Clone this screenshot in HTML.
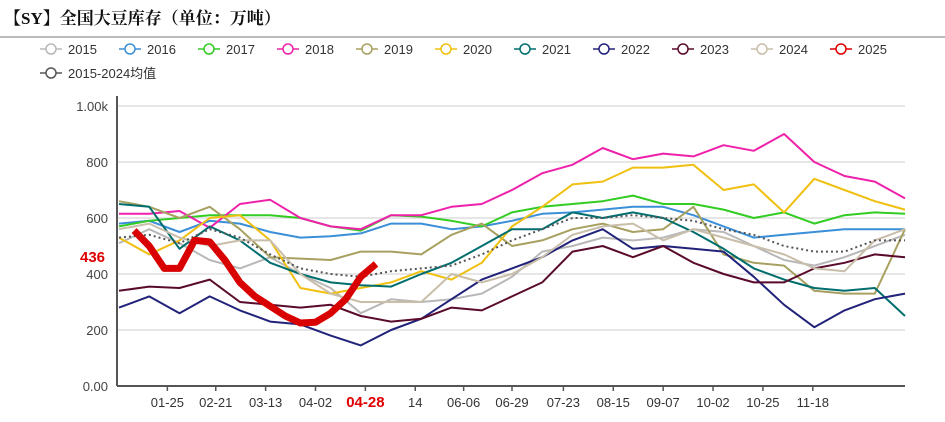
<!DOCTYPE html>
<html><head><meta charset="utf-8"><style>
body{margin:0;background:#fff;width:945px;height:417px;overflow:hidden;font-family:"Liberation Sans","Noto Sans CJK SC",sans-serif}
</style></head><body>
<svg id="c" width="945" height="417" xmlns="http://www.w3.org/2000/svg">
<text x="4" y="24" font-size="17" font-weight="bold" fill="#111" font-family="'Liberation Serif','Noto Serif CJK SC',serif">【SY】全国大豆库存（单位：万吨）</text>
<line x1="0" y1="37" x2="945" y2="37" stroke="#bbb" stroke-width="2"/>
<g id="legend"></g>
<g id="grid"></g>
<g id="series"></g>
<g id="axes"></g>
</svg>
<script>
const names=["2015","2016","2017","2018","2019","2020","2021","2022","2023","2024","2025","2015-2024均值"];
const colors=["#b8b8b8","#3a8fd8","#33cc22","#ee22aa","#a8a060","#f0c010","#006e6e","#22227a","#5a0a2a","#c8beaa","#e00000","#555"];
const s2015=[510,560,510,450,420,460,400,350,260,310,300,310,330,390,480,500,530,520,530,560,550,500,450,430,460,500,540];
const s2016=[580,590,550,590,580,550,530,535,545,580,580,560,570,590,615,620,630,640,640,610,570,530,540,550,560,560,560];
const s2017=[570,590,600,610,610,610,600,570,555,610,605,590,570,620,640,650,660,680,650,650,630,600,620,580,610,620,615];
const s2018=[615,615,625,565,650,665,600,570,560,610,610,640,650,700,760,790,850,810,830,820,860,840,900,800,750,730,670];
const s2019=[660,640,600,640,560,460,455,450,480,480,470,540,580,500,520,560,580,550,560,640,470,440,430,340,330,330,560];
const s2020=[530,470,520,600,610,520,350,330,350,370,410,380,440,570,640,720,730,780,780,790,700,720,620,740,700,660,630];
const s2021=[650,640,490,570,520,440,400,370,360,355,400,440,500,560,560,620,600,620,600,550,490,420,380,350,340,350,250];
const s2022=[280,320,260,320,270,230,220,180,145,200,240,310,380,420,460,520,560,490,500,490,480,390,290,210,270,310,330];
const s2023=[340,355,350,380,300,290,280,290,250,230,240,280,270,320,370,480,500,460,500,440,400,370,370,420,440,470,460];
const s2024=[560,580,530,500,520,520,400,330,300,300,300,400,370,400,460,540,570,580,520,560,530,500,470,420,410,520,560];
const s2025=[null,555,500,420,420,520,515,450,370,320,285,250,225,228,260,310,390,436];
const sAvg=[530,540,510,560,530,470,420,400,390,410,420,430,470,520,560,600,600,610,600,590,560,540,500,480,480,520,520];
const tickLabels=["01-25","02-21","03-13","04-02","04-28","14","06-06","06-29","07-23","08-15","09-07","10-02","10-25","11-18"];
const tickWeeks=[3.2,6.4,9.7,13,16.3,19.6,22.8,26,29.4,32.7,36,39.3,42.6,45.9];
const yTicks=[0,200,400,600,800,1000];
const yTickLabels=["0.00","200","400","600","800","1.00k"];
const NS="http://www.w3.org/2000/svg";
const x0=119,x1=905,nW=52,yB=386,yT=106;
const xS=w=>x0+(x1-x0)*w/nW;
const yS=v=>yB-(yB-yT)*v/1000;
function mk(t,a,p){const e=document.createElementNS(NS,t);for(const k in a)e.setAttribute(k,a[k]);p.appendChild(e);return e;}
const grid=document.getElementById('grid'),axes=document.getElementById('axes'),ser=document.getElementById('series'),leg=document.getElementById('legend');
yTicks.forEach((v,i)=>{
  if(v>0){const g=mk('line',{x1:x0-2,x2:x1,y1:yS(v),y2:yS(v),stroke:'#ddd','stroke-width':1.5},grid);
  
  }
  const t=mk('text',{x:108,y:yS(v)+5,'font-size':13,fill:'#444','text-anchor':'end'},axes);t.textContent=yTickLabels[i];
  
  
});
const ax=mk('line',{x1:x0-2,x2:x0-2,y1:yT-10,y2:yB,stroke:'#555','stroke-width':2},axes);


const bx=mk('line',{x1:x0-2,x2:x1,y1:yB,y2:yB,stroke:'#555','stroke-width':2},axes);


tickLabels.forEach((l,i)=>{
  const x=xS(tickWeeks[i]);
  mk('line',{x1:x,x2:x,y1:yB,y2:yB+5,stroke:'#555','stroke-width':1.5},axes);
  const red=l==="04-28";
  const t=mk('text',{x:x,y:407,'font-size':red?15:13,'font-weight':red?'bold':'normal',fill:red?'#e00000':'#333','text-anchor':'middle'},axes);t.textContent=l;
  
  
});
const all=[s2015,s2016,s2017,s2018,s2019,s2020,s2021,s2022,s2023,s2024];
function path(arr,step){let d="";arr.forEach((v,i)=>{if(v==null)return;d+=(d?"L":"M")+xS(i*step).toFixed(1)+","+yS(v).toFixed(1);});return d;}
all.forEach((a,i)=>{
  const p=mk('path',{d:path(a,2),fill:'none',stroke:colors[i],'stroke-width':2,'stroke-linejoin':'round'},ser);
  
  
});
const pa=mk('path',{d:path(sAvg,2),fill:'none',stroke:'#555','stroke-width':2,'stroke-dasharray':'2,3'},ser);


const pr=mk('path',{d:path(s2025,1),fill:'none',stroke:'#d80000','stroke-width':7,'stroke-linejoin':'round'},ser);


const last=s2025[s2025.length-1];
const lt=mk('text',{x:80,y:yS(last)-2,'font-size':15,'font-weight':'bold',fill:'#e00000'},axes);lt.textContent=String(last);


names.forEach((n,i)=>{
  const row=i<11?0:1;const col=i<11?i:0;
  const x=40+col*79,y=row?73:49;
  const g=mk('g',{},leg);
  
  
  mk('line',{x1:x,x2:x+22,y1:y,y2:y,stroke:colors[i],'stroke-width':1.5},g);
  mk('circle',{cx:x+11,cy:y,r:5,fill:'#fff',stroke:colors[i],'stroke-width':1.5},g);
  const t=mk('text',{x:x+28,y:y+5,'font-size':13,fill:'#333'},g);t.textContent=n;
});
</script>
</body></html>
